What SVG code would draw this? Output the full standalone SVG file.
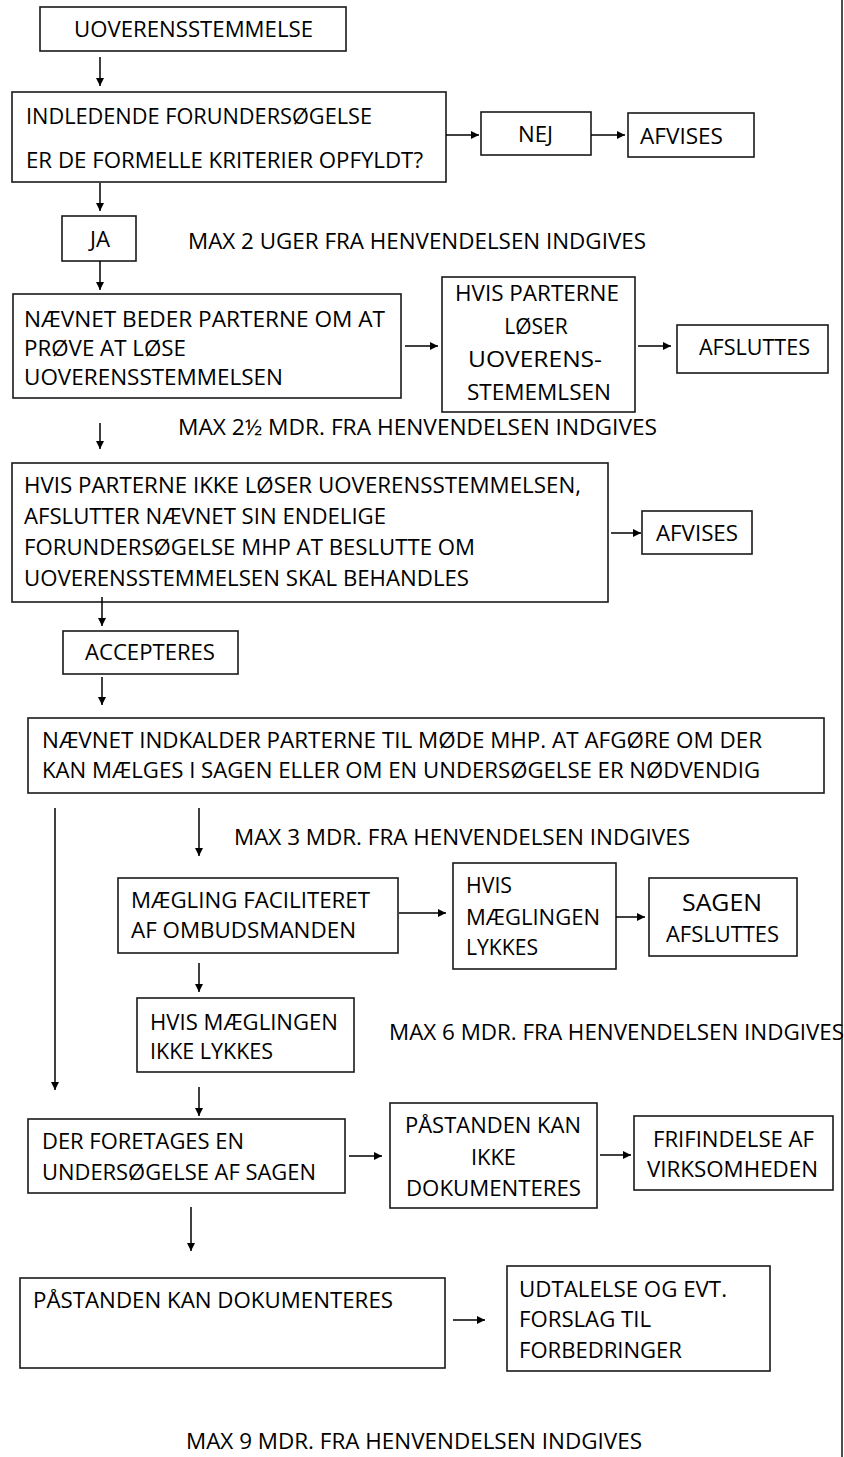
<svg xmlns="http://www.w3.org/2000/svg" width="844" height="1457" viewBox="0 0 844 1457">
<defs>
<marker id="ah" markerUnits="userSpaceOnUse" markerWidth="9" markerHeight="8" refX="8" refY="4" orient="auto">
<path d="M0,0 L8,4 L0,8 z" fill="#000"/>
</marker>
<style>
rect{fill:#fff;stroke:#1a1a1a;stroke-width:1.6}
text{font-family:"Open Sans","Liberation Sans",sans-serif;font-size:21px;fill:#000}
.c{text-anchor:middle}
#connectors line{stroke:#000;stroke-width:1.5;marker-end:url(#ah)}
.edge{stroke:#222;stroke-width:1.6}
</style>
</defs>
<rect x="0" y="0" width="844" height="1457" style="fill:#fff;stroke:none"/>
<line class="edge" x1="842" y1="0" x2="842" y2="1457"/>

<g id="n-uoverens">
<rect x="40" y="7" width="306" height="44"/>
<text x="74" y="37" textLength="239" lengthAdjust="spacingAndGlyphs">UOVERENSSTEMMELSE</text>
</g>
<g id="n-indledende">
<rect x="12" y="92" width="434" height="90"/>
<text x="26" y="124" textLength="346" lengthAdjust="spacingAndGlyphs">INDLEDENDE FORUNDERSØGELSE</text>
<text x="26" y="168" textLength="397" lengthAdjust="spacingAndGlyphs">ER DE FORMELLE KRITERIER OPFYLDT?</text>
</g>
<g id="n-nej">
<rect x="481" y="112" width="110" height="43"/>
<text x="518" y="142" textLength="35" lengthAdjust="spacingAndGlyphs">NEJ</text>
</g>
<g id="n-afvises1">
<rect x="628" y="113" width="126" height="44"/>
<text x="640" y="144" textLength="83" lengthAdjust="spacingAndGlyphs">AFVISES</text>
</g>
<g id="n-ja">
<rect x="62" y="216" width="74" height="45"/>
<text x="90" y="247" textLength="20" lengthAdjust="spacingAndGlyphs">JA</text>
</g>
<g id="t-max2">
<text x="188" y="249" textLength="458" lengthAdjust="spacingAndGlyphs">MAX 2 UGER FRA HENVENDELSEN INDGIVES</text>
</g>
<g id="n-naevnet-beder">
<rect x="13" y="294" width="388" height="104"/>
<text x="24" y="327" textLength="361" lengthAdjust="spacingAndGlyphs">NÆVNET BEDER PARTERNE OM AT</text>
<text x="24" y="356" textLength="162" lengthAdjust="spacingAndGlyphs">PRØVE AT LØSE</text>
<text x="24" y="385" textLength="259" lengthAdjust="spacingAndGlyphs">UOVERENSSTEMMELSEN</text>
</g>
<g id="n-hvis-loeser">
<rect x="442" y="277" width="193" height="135"/>
<text x="455" y="301" textLength="164" lengthAdjust="spacingAndGlyphs">HVIS PARTERNE</text>
<text class="c" x="536" y="334">LØSER</text>
<text x="468" y="367" textLength="134" lengthAdjust="spacingAndGlyphs">UOVERENS-</text>
<text x="467" y="400" textLength="144" lengthAdjust="spacingAndGlyphs">STEMEMLSEN</text>
</g>
<g id="n-afsluttes1">
<rect x="677" y="325" width="151" height="48"/>
<text x="699" y="355" textLength="111" lengthAdjust="spacingAndGlyphs">AFSLUTTES</text>
</g>
<g id="t-max25">
<text x="178" y="435" textLength="479" lengthAdjust="spacingAndGlyphs">MAX 2½ MDR. FRA HENVENDELSEN INDGIVES</text>
</g>
<g id="n-hvis-ikke">
<rect x="12" y="463" width="596" height="139"/>
<text x="24" y="493" textLength="557" lengthAdjust="spacingAndGlyphs">HVIS PARTERNE IKKE LØSER UOVERENSSTEMMELSEN,</text>
<text x="24" y="524" textLength="362" lengthAdjust="spacingAndGlyphs">AFSLUTTER NÆVNET SIN ENDELIGE</text>
<text x="24" y="555" textLength="451" lengthAdjust="spacingAndGlyphs">FORUNDERSØGELSE MHP AT BESLUTTE OM</text>
<text x="24" y="586" textLength="445" lengthAdjust="spacingAndGlyphs">UOVERENSSTEMMELSEN SKAL BEHANDLES</text>
</g>
<g id="n-afvises2">
<rect x="642" y="511" width="110" height="43"/>
<text x="656" y="541" textLength="82" lengthAdjust="spacingAndGlyphs">AFVISES</text>
</g>
<g id="n-accepteres">
<rect x="63" y="631" width="175" height="43"/>
<text x="85" y="660" textLength="130" lengthAdjust="spacingAndGlyphs">ACCEPTERES</text>
</g>
<g id="n-indkalder">
<rect x="28" y="718" width="796" height="75"/>
<text x="42" y="748" textLength="720" lengthAdjust="spacingAndGlyphs">NÆVNET INDKALDER PARTERNE TIL MØDE MHP. AT AFGØRE OM DER</text>
<text x="42" y="778" textLength="718" lengthAdjust="spacingAndGlyphs">KAN MÆLGES I SAGEN ELLER OM EN UNDERSØGELSE ER NØDVENDIG</text>
</g>
<g id="t-max3">
<text x="234" y="845" textLength="456" lengthAdjust="spacingAndGlyphs">MAX 3 MDR. FRA HENVENDELSEN INDGIVES</text>
</g>
<g id="n-maegling">
<rect x="118" y="878" width="280" height="75"/>
<text x="131" y="908" textLength="239" lengthAdjust="spacingAndGlyphs">MÆGLING FACILITERET</text>
<text x="131" y="938" textLength="225" lengthAdjust="spacingAndGlyphs">AF OMBUDSMANDEN</text>
</g>
<g id="n-hvis-lykkes">
<rect x="453" y="863" width="163" height="106"/>
<text x="466" y="893" textLength="46" lengthAdjust="spacingAndGlyphs">HVIS</text>
<text x="466" y="925" textLength="134" lengthAdjust="spacingAndGlyphs">MÆGLINGEN</text>
<text x="466" y="955" textLength="72" lengthAdjust="spacingAndGlyphs">LYKKES</text>
</g>
<g id="n-sagen">
<rect x="649" y="878" width="148" height="78"/>
<text x="682" y="911" textLength="80" lengthAdjust="spacingAndGlyphs" style="font-size:24px">SAGEN</text>
<text x="666" y="942" textLength="113" lengthAdjust="spacingAndGlyphs">AFSLUTTES</text>
</g>
<g id="n-hvis-ikke-lykkes">
<rect x="137" y="998" width="217" height="74"/>
<text x="150" y="1030" textLength="188" lengthAdjust="spacingAndGlyphs">HVIS MÆGLINGEN</text>
<text x="150" y="1059" textLength="123" lengthAdjust="spacingAndGlyphs">IKKE LYKKES</text>
</g>
<g id="t-max6">
<text x="389" y="1040" textLength="455" lengthAdjust="spacingAndGlyphs">MAX 6 MDR. FRA HENVENDELSEN INDGIVES</text>
</g>
<g id="n-undersoegelse">
<rect x="28" y="1119" width="317" height="74"/>
<text x="42" y="1149" textLength="202" lengthAdjust="spacingAndGlyphs">DER FORETAGES EN</text>
<text x="42" y="1180" textLength="274" lengthAdjust="spacingAndGlyphs">UNDERSØGELSE AF SAGEN</text>
</g>
<g id="n-ikke-dok">
<rect x="390" y="1103" width="207" height="105"/>
<text x="405" y="1133" textLength="176" lengthAdjust="spacingAndGlyphs">PÅSTANDEN KAN</text>
<text x="471" y="1165" textLength="45" lengthAdjust="spacingAndGlyphs">IKKE</text>
<text x="406" y="1196" textLength="175" lengthAdjust="spacingAndGlyphs">DOKUMENTERES</text>
</g>
<g id="n-frifindelse">
<rect x="634" y="1116" width="199" height="74"/>
<text x="653" y="1147" textLength="161" lengthAdjust="spacingAndGlyphs">FRIFINDELSE AF</text>
<text x="647" y="1177" textLength="171" lengthAdjust="spacingAndGlyphs">VIRKSOMHEDEN</text>
</g>
<g id="n-dok">
<rect x="20" y="1278" width="425" height="90"/>
<text x="33" y="1308" textLength="360" lengthAdjust="spacingAndGlyphs">PÅSTANDEN KAN DOKUMENTERES</text>
</g>
<g id="n-udtalelse">
<rect x="507" y="1266" width="263" height="105"/>
<text x="519" y="1297" textLength="208" lengthAdjust="spacingAndGlyphs">UDTALELSE OG EVT.</text>
<text x="519" y="1327" textLength="132" lengthAdjust="spacingAndGlyphs">FORSLAG TIL</text>
<text x="519" y="1358" textLength="163" lengthAdjust="spacingAndGlyphs">FORBEDRINGER</text>
</g>
<g id="t-max9">
<text x="186" y="1449" textLength="456" lengthAdjust="spacingAndGlyphs">MAX 9 MDR. FRA HENVENDELSEN INDGIVES</text>
</g>

<g id="connectors">
<line x1="100" y1="57" x2="100" y2="86"/>
<line x1="446" y1="135" x2="479" y2="135"/>
<line x1="591" y1="135" x2="625" y2="135"/>
<line x1="100" y1="183" x2="100" y2="211"/>
<line x1="100" y1="261" x2="100" y2="290"/>
<line x1="405" y1="346" x2="438" y2="346"/>
<line x1="638" y1="346" x2="671" y2="346"/>
<line x1="100" y1="423" x2="100" y2="449"/>
<line x1="611" y1="533" x2="641" y2="533"/>
<line x1="102" y1="597" x2="102" y2="626"/>
<line x1="102" y1="677" x2="102" y2="705"/>
<line x1="55" y1="808" x2="55" y2="1090"/>
<line x1="199" y1="808" x2="199" y2="856"/>
<line x1="399" y1="913" x2="446" y2="913"/>
<line x1="616" y1="917" x2="645" y2="917"/>
<line x1="199" y1="963" x2="199" y2="992"/>
<line x1="199" y1="1087" x2="199" y2="1116"/>
<line x1="349" y1="1156" x2="382" y2="1156"/>
<line x1="600" y1="1155" x2="631" y2="1155"/>
<line x1="191" y1="1207" x2="191" y2="1251"/>
<line x1="453" y1="1320" x2="485" y2="1320"/>
</g>
</svg>
